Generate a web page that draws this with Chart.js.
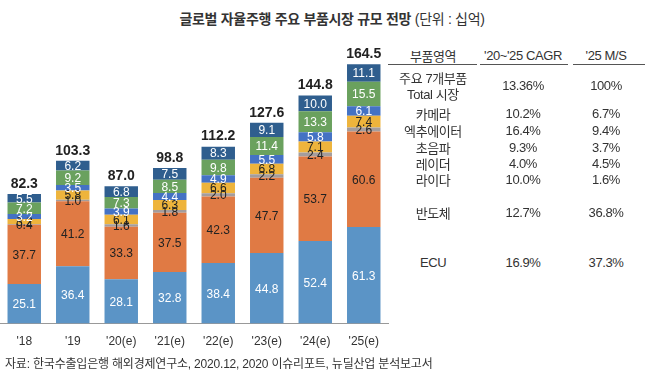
<!DOCTYPE html>
<html>
<head>
<meta charset="utf-8">
<script src="https://cdn.jsdelivr.net/npm/chart.js@4"></script>
<style>
  body { margin: 0; background: #fff; width: 660px; height: 377px; overflow: hidden; position: relative;
         font-family: "Liberation Sans", "Noto Sans CJK KR", sans-serif; color: #333; }
  #wrap { position: absolute; left: 0; top: 0; width: 390px; height: 377px; }
  .t { position: absolute; white-space: nowrap; transform: translate(-50%, -50%); font-size: 13px; letter-spacing: -0.4px; }
  .ln { position: absolute; height: 1px; background: #555; top: 64px; }
  #title { position: absolute; top: 8px; left: 0; width: 664px; text-align: center; font-size: 14px; letter-spacing: -0.3px; color: #333; }
  #title b { font-weight: bold; }
  #src { position: absolute; left: 5px; top: 354px; font-size: 12px; letter-spacing: -0.2px; color: #333; }
</style>
</head>
<body>
<div id="title"><b>글로벌 자율주행 주요 부품시장 규모 전망</b> (단위 : 십억)</div>
<div id="wrap"><canvas id="marketChart" width="390" height="377"></canvas></div>
<div id="table"></div>
<div id="src">자료: 한국수출입은행 해외경제연구소, 2020.12, 2020 이슈리포트, 뉴딜산업 분석보고서</div>

<script>
const years = ["'18", "'19", "'20(e)", "'21(e)", "'22(e)", "'23(e)", "'24(e)", "'25(e)"];

const ecu        = [25.1, 36.4, 28.1, 32.8, 38.4, 44.8, 52.4, 61.3];
const semis      = [37.7, 41.2, 33.3, 37.5, 42.3, 47.7, 53.7, 60.6];
const lidar      = [0.4, 1.0, 1.6, 1.8, 2.0, 2.2, 2.4, 2.6];
const radar      = [3.2, 5.8, 6.1, 6.3, 6.6, 6.8, 7.1, 7.4];
const ultrasonic = [3.2, 3.5, 3.9, 4.4, 4.9, 5.5, 5.8, 6.1];
const actuator   = [7.2, 9.2, 7.3, 8.5, 9.8, 11.4, 13.3, 15.5];
const camera     = [5.5, 6.2, 6.8, 7.5, 8.3, 9.1, 10.0, 11.1];
const totals     = [82.3, 103.3, 87.0, 98.8, 112.2, 127.6, 144.8, 164.5];

// table on the right
const tableHead = ["부품영역", "'20~'25 CAGR", "'25 M/S"];
const tableParts = ["카메라", "엑추에이터", "초음파", "레이더", "라이다", "반도체", "ECU"];
const tableCagr  = ["10.2%", "16.4%", "9.3%", "4.0%", "10.0%", "12.7%", "16.9%"];
const tableShare = ["6.7%", "9.4%", "3.7%", "4.5%", "1.6%", "36.8%", "37.3%"];
const totalRow = ["주요 7개부품", "Total 시장", "13.36%", "100%"];

const colX = [433, 523, 606];
const rowY = [113, 130, 147, 163, 179, 212, 262];

function addText(txt, x, y) {
    let d = document.createElement("div");
    d.className = "t";
    d.textContent = txt;
    d.style.left = x + "px";
    d.style.top = y + "px";
    document.getElementById("table").appendChild(d);
}

tableHead.forEach((h, i) => addText(h, colX[i], 55));
[[388, 477], [480, 568], [573, 645]].forEach(p => {
    let l = document.createElement("div");
    l.className = "ln";
    l.style.left = p[0] + "px";
    l.style.width = (p[1] - p[0]) + "px";
    document.getElementById("table").appendChild(l);
});
addText(totalRow[0], colX[0], 77);
addText(totalRow[1], colX[0], 93);
addText(totalRow[2], colX[1], 85);
addText(totalRow[3], colX[2], 85);
for (let i = 0; i < tableParts.length; i++) {
    addText(tableParts[i], colX[0], rowY[i]);
    addText(tableCagr[i], colX[1], rowY[i]);
    addText(tableShare[i], colX[2], rowY[i]);
}

// segment labels + totals
const labelPlugin = {
    id: 'segLabels',
    afterDatasetsDraw(chart) {
        const c = chart.ctx;
        c.save();
        c.textAlign = 'center';
        c.textBaseline = 'middle';
        c.font = '12px "Liberation Sans", Arial, sans-serif';
        chart.data.datasets.forEach((ds, di) => {
            const meta = chart.getDatasetMeta(di);
            meta.data.forEach((bar, i) => {
                c.fillStyle = ds.labelColor;
                c.fillText(ds.data[i].toFixed(1), bar.x, (bar.y + bar.base) / 2 + 1);
            });
        });
        const top = chart.getDatasetMeta(chart.data.datasets.length - 1);
        c.font = 'bold 14px "Liberation Sans", Arial, sans-serif';
        c.fillStyle = '#222';
        top.data.forEach((bar, i) => {
            c.fillText(totals[i].toFixed(1), bar.x, bar.y - 10);
        });
        c.restore();
    }
};

const ctx = document.getElementById('marketChart');

new Chart(ctx, {
    type: 'bar',
    data: {
        labels: years,
        datasets: [
            { label: 'ECU', data: ecu, backgroundColor: '#5b94c6', labelColor: '#fff' },
            { label: '반도체', data: semis, backgroundColor: '#e07a44', labelColor: '#222' },
            { label: '라이다', data: lidar, backgroundColor: '#a49d9d', labelColor: '#222' },
            { label: '레이더', data: radar, backgroundColor: '#eeb43c', labelColor: '#222' },
            { label: '초음파', data: ultrasonic, backgroundColor: '#4472c4', labelColor: '#fff' },
            { label: '엑추에이터', data: actuator, backgroundColor: '#6aa15e', labelColor: '#fff' },
            { label: '카메라', data: camera, backgroundColor: '#2f5e8e', labelColor: '#fff' }
        ]
    },
    options: {
        responsive: false,
        animation: false,
        devicePixelRatio: 1,
        layout: { padding: { top: 10, bottom: 25, left: 0, right: 2 } },
        datasets: { bar: { categoryPercentage: 1, barPercentage: 0.69 } },
        plugins: { legend: { display: false }, tooltip: { enabled: false } },
        scales: {
            x: {
                stacked: true,
                grid: { display: false },
                border: { display: true, color: '#999' },
                ticks: { color: '#333', font: { size: 12, family: '"Liberation Sans", Arial' }, padding: 3 }
            },
            y: {
                stacked: true,
                display: false,
                min: 0,
                max: 199
            }
        }
    },
    plugins: [labelPlugin]
});
</script>
</body>
</html>
